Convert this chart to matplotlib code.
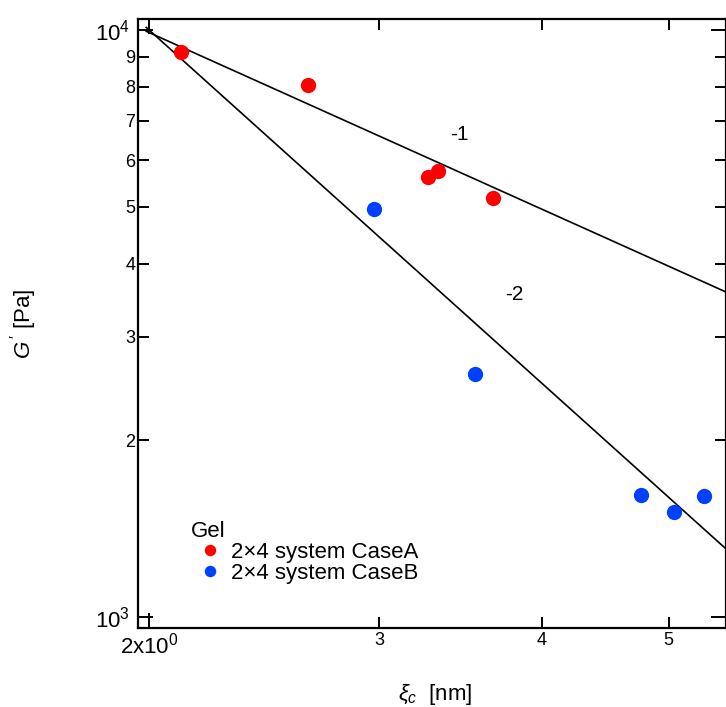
import matplotlib
matplotlib.use('Agg')
import matplotlib.pyplot as plt
from matplotlib.ticker import FixedLocator, FixedFormatter
import numpy as np

plt.rcParams['font.family'] = ['Liberation Sans', 'DejaVu Sans']
plt.rcParams['mathtext.fontset'] = 'custom'
plt.rcParams['mathtext.rm'] = 'Liberation Sans'
plt.rcParams['mathtext.it'] = 'Liberation Sans:italic'
plt.rcParams['mathtext.sf'] = 'Liberation Sans'

# data
xi_a = [2.116, 2.647, 3.270, 3.329, 3.667]
g_a = [9170, 8060, 5620, 5750, 5170]
xi_b = [2.973, 3.554, 4.76, 5.046, 5.32]
g_b = [4955, 2594, 1614, 1510, 1608]

# power law guides  G = A * xi^n
slopes = [-1, -2]
prefactors = [19800, 40000]
slope_labels = ['-1', '-2']
label_pos = [(3.455, 6650), (3.806, 3540)]

xtick_vals = [2, 3, 4, 5]
xtick_labels = [r'2x10$^0$', '3', '4', '5']
ymajor_vals = [1000, 10000]
ymajor_labels = [r'10$^3$', r'10$^4$']
yminor_vals = [2000, 3000, 4000, 5000, 6000, 7000, 8000, 9000]
yminor_labels = ['2', '3', '4', '5', '6', '7', '8', '9']

fig = plt.figure(figsize=(7.26, 7.07), dpi=100)
ax = fig.add_axes([0.190, 0.1117, 0.8096, 0.8614])
ax.set_xscale('log')
ax.set_yscale('log')

xx = np.linspace(1.99, 6.0, 200)
for n, A in zip(slopes, prefactors):
    ax.plot(xx, A * xx ** n, color='black', lw=1.2)
for lab, (px, py) in zip(slope_labels, label_pos):
    ax.text(px, py, lab, fontsize=15, ha='center', va='center')

ax.plot(xi_a, g_a, 'o', color='#ff0000', ms=11, mec='none', label='2×4 system CaseA')
ax.plot(xi_b, g_b, 'o', color='#0040ff', ms=11, mec='none', label='2×4 system CaseB')

ax.set_xlim(1.961, 5.53)
ax.set_ylim(958, 10440)

ax.xaxis.set_major_locator(FixedLocator([2]))
ax.xaxis.set_major_formatter(FixedFormatter([xtick_labels[0]]))
ax.xaxis.set_minor_locator(FixedLocator(xtick_vals[1:]))
ax.xaxis.set_minor_formatter(FixedFormatter(xtick_labels[1:]))
ax.yaxis.set_major_locator(FixedLocator(ymajor_vals))
ax.yaxis.set_major_formatter(FixedFormatter(ymajor_labels))
ax.yaxis.set_minor_locator(FixedLocator(yminor_vals))
ax.yaxis.set_minor_formatter(FixedFormatter(yminor_labels))

ax.tick_params(which='both', direction='in', top=True, right=True, width=1.4, color='black')
ax.tick_params(which='major', length=11, labelsize=16)
ax.tick_params(which='minor', length=8, labelsize=13)
ax.tick_params(axis='y', which='major', pad=6)
ax.tick_params(axis='y', which='minor', pad=2)
ax.tick_params(axis='x', which='major', pad=3)
ax.tick_params(axis='x', which='minor', pad=3)
for s in ax.spines.values():
    s.set_linewidth(1.6)

ax.set_xlabel(r'$\xi_c$  [nm]', fontsize=16)
ax.xaxis.set_label_coords(0.5055, -0.088)
ax.set_ylabel(r"$G\,'$ [Pa]", fontsize=16)
ax.yaxis.set_label_coords(-0.168, 0.5)

leg = ax.legend(title='Gel', loc='upper left', bbox_to_anchor=(0.09, 0.176), frameon=False,
                fontsize=16, title_fontsize=16, handletextpad=0.05, borderaxespad=0,
                labelspacing=0.0, markerscale=0.75, handlelength=1.75, borderpad=0)
leg._legend_box.align = 'left'

fig.savefig('out.png', dpi=100)
